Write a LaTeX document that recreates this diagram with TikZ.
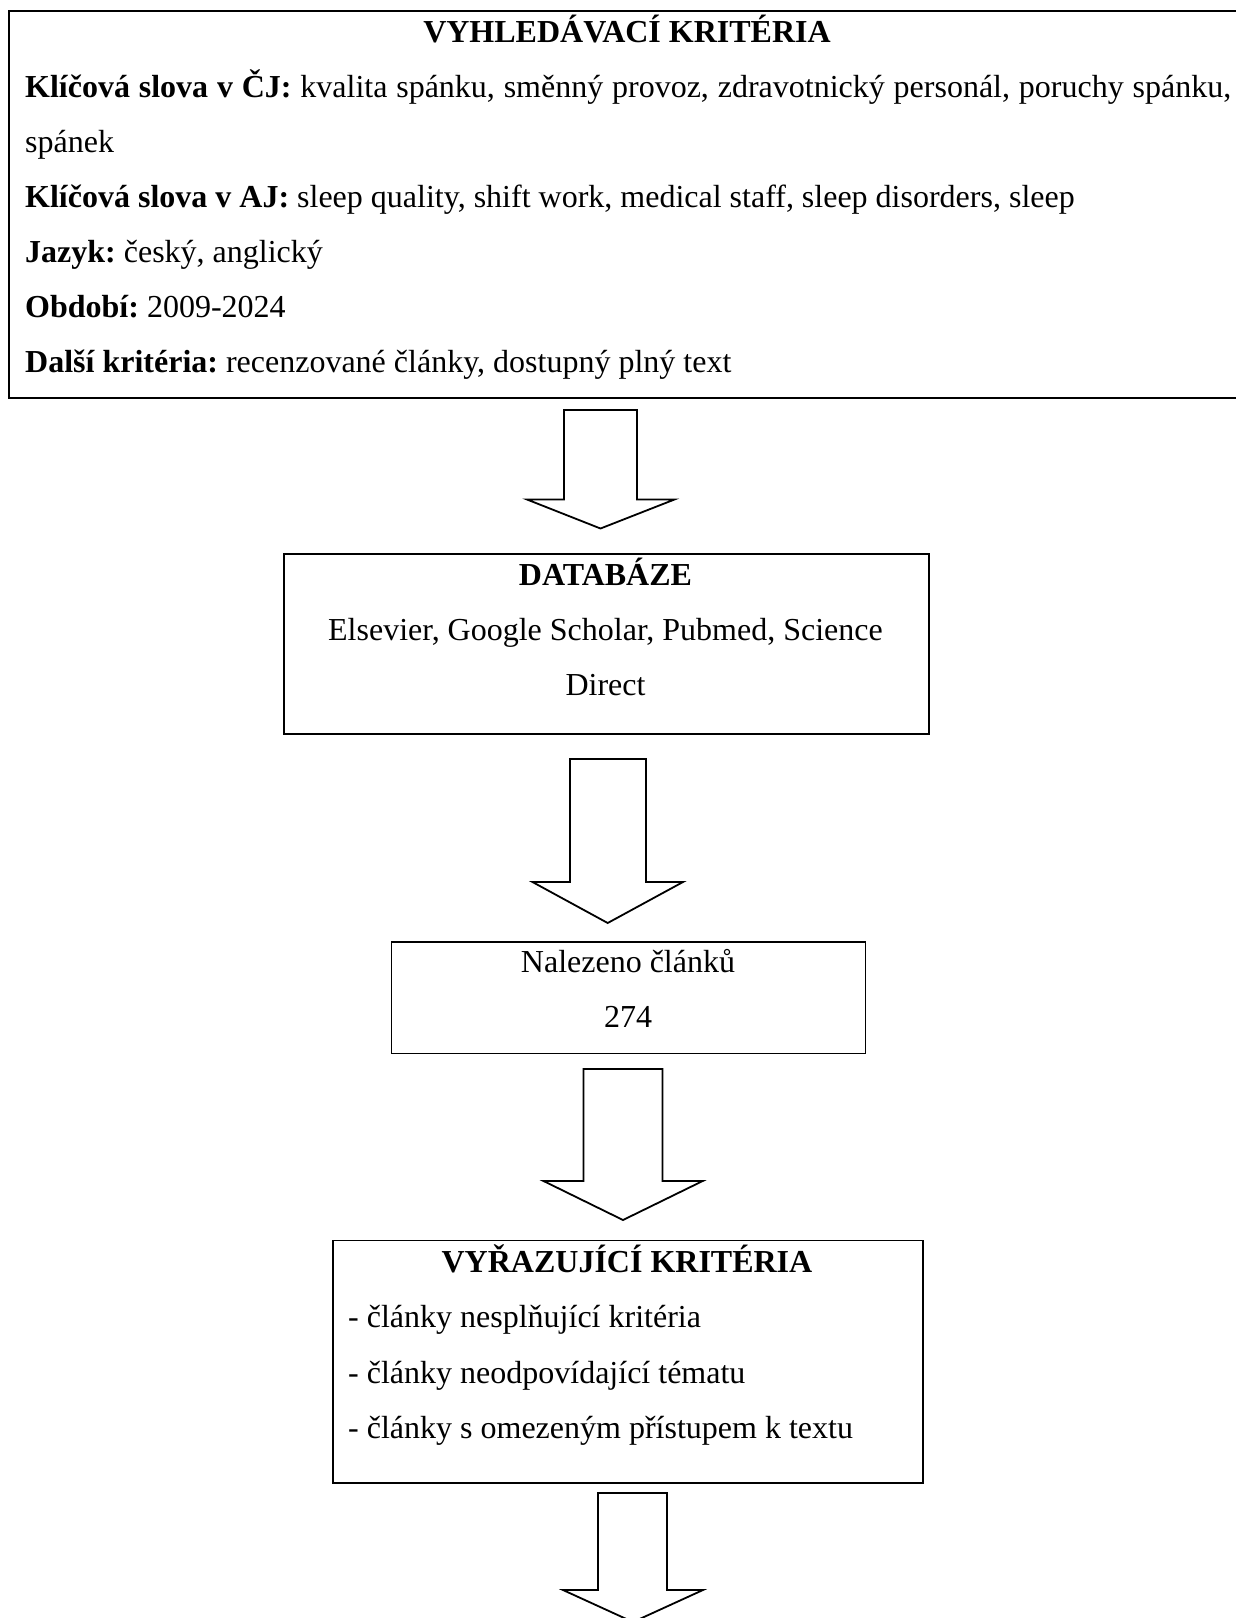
\documentclass[tikz,border=0pt]{standalone}
\usepackage{fontspec}
\setmainfont{Liberation Serif}
\usepackage{tikz}
\frenchspacing

\begin{document}
\begin{tikzpicture}[%
  x=1pt,
  y=-1pt,
  font=\fontsize{32}{55}\selectfont,
  ramec/.style={
    draw,
    line width=1.8pt,
    inner sep=0pt},
  sipka/.style={
    draw,
    line width=1.8pt,
    line join=miter,
    fill=white},
  radek/.style={anchor=base west, inner sep=0pt},
  nadpis/.style={anchor=base, inner sep=0pt, font=\fontsize{32}{55}\selectfont\bfseries}
  ]
  \useasboundingbox (0,0) rectangle (1236,1618);
  %% Boxes
  \node[ramec, minimum width=1241pt, minimum height=387pt] (krit) at (629.5,204.5) {};
  \node[ramec, minimum width=645pt, minimum height=179.5pt] (db) at (606.5,644) {};
  \node[ramec, minimum width=474pt, minimum height=111.5pt] (nal) at (628.5,997.75) {};
  \node[ramec, minimum width=590.5pt, minimum height=242.5pt] (vyr) at (628,1361.75) {};
  %% Texts
  \node[nadpis] (k0) at (627,42) {VYHLEDÁVACÍ KRITÉRIA};
  \node[radek] (k1) at (25,97) {\makebox[1206pt][s]{\textbf{Klíčová slova v ČJ:} kvalita spánku, směnný provoz, zdravotnický personál, poruchy spánku,}};
  \node[radek] (k2) at (25,152) {spánek};
  \node[radek] (k3) at (25,207) {\textbf{Klíčová slova v AJ:} sleep quality, shift work, medical staff, sleep disorders, sleep};
  \node[radek] (k4) at (25,262) {\textbf{Jazyk:} český, anglický};
  \node[radek] (k5) at (25,317) {\textbf{Období:} 2009-2024};
  \node[radek] (k6) at (25,372) {\textbf{Další kritéria:} recenzované články, dostupný plný text};
  \node[nadpis] (d0) at (605.5,585) {DATABÁZE};
  \node[anchor=base, inner sep=0pt] (d1) at (605.5,640) {Elsevier, Google Scholar, Pubmed, Science};
  \node[anchor=base, inner sep=0pt] (d2) at (605.5,695) {Direct};
  \node[anchor=base, inner sep=0pt] (n0) at (628,972.5) {Nalezeno článků};
  \node[anchor=base, inner sep=0pt] (n1) at (628,1027) {274};
  \node[nadpis] (v0) at (627,1272) {VYŘAZUJÍCÍ KRITÉRIA};
  \node[radek] (v1) at (348,1327.5) {- články nesplňující kritéria};
  \node[radek] (v2) at (348,1383) {- články neodpovídající tématu};
  \node[radek] (v3) at (348,1438) {- články s omezeným přístupem k textu};
  %% Arrows
  \draw[sipka] (564,410) -- (637,410) -- (637,499.5) -- (674.5,499.5) -- (600.5,528.5)
    -- (527,499.5) -- (564,499.5) -- cycle;
  \draw[sipka] (570,759) -- (646,759) -- (646,882) -- (683,882) -- (607.7,923)
    -- (532.5,882) -- (570,882) -- cycle;
  \draw[sipka] (583.5,1069) -- (662.5,1069) -- (662.5,1181) -- (702.7,1181) -- (623,1220)
    -- (543.5,1181) -- (583.5,1181) -- cycle;
  \draw[sipka] (598,1493) -- (667,1493) -- (667,1590) -- (703,1590) -- (633,1622)
    -- (563,1590) -- (598,1590) -- cycle;
\end{tikzpicture}
\end{document}
